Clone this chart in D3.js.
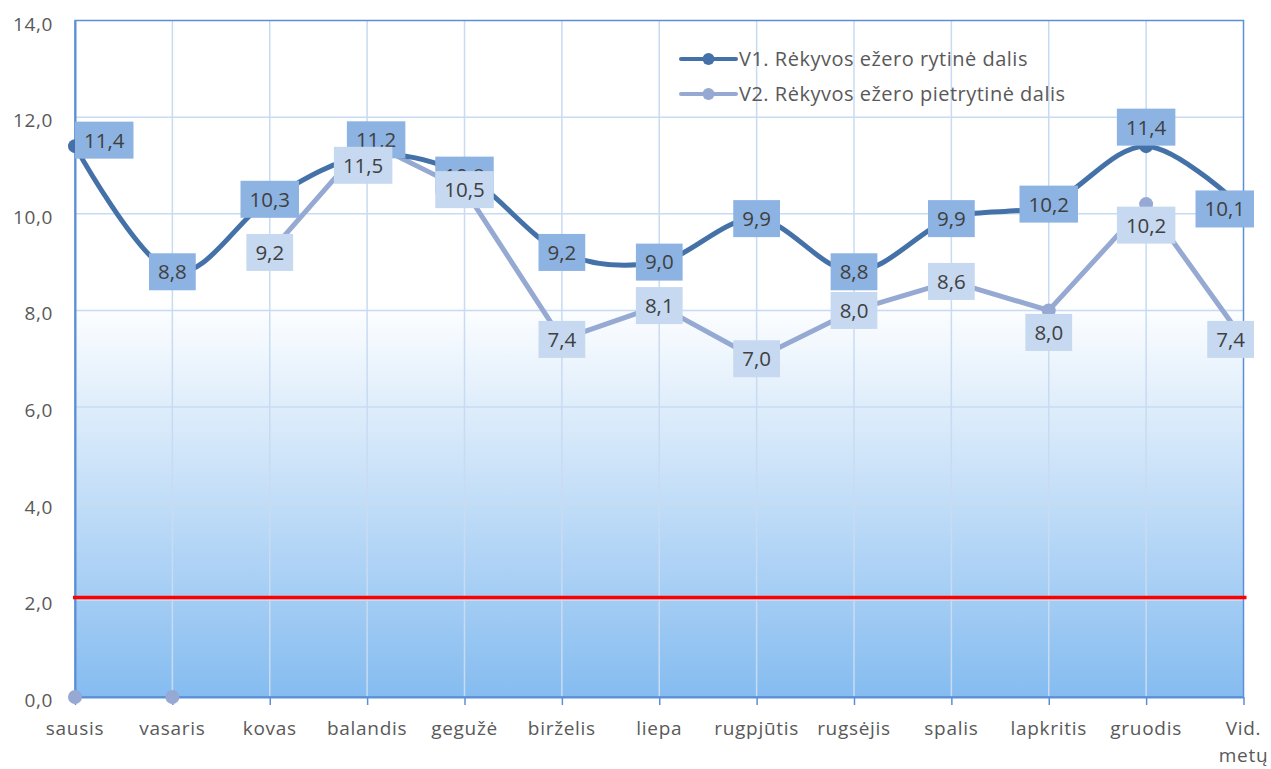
<!DOCTYPE html>
<html lang="lt">
<head>
<meta charset="utf-8">
<script src="https://cdn.jsdelivr.net/npm/d3@7"></script>
<style>
  html, body { margin: 0; padding: 0; background: #fff; }
  svg { display: block; font-family: "Open Sans", "Noto Sans", sans-serif; }
</style>
</head>
<body>
<svg id="chart" width="1271" height="769"></svg>
<script>
// Months plus the annual average
const categories = ["sausis", "vasaris", "kovas", "balandis", "gegužė", "birželis",
  "liepa", "rugpjūtis", "rugsėjis", "spalis", "lapkritis", "gruodis", "Vid. metų"];

// V1 – eastern part of the lake
const seriesV1 = [11.4, 8.8, 10.3, 11.2, 10.8, 9.2, 9.0, 9.9, 8.8, 9.9, 10.2, 11.4, 10.1];
// V2 – south-eastern part (no measurement in January and February, shown as 0)
const seriesV2 = [0, 0, 9.2, 11.5, 10.5, 7.4, 8.1, 7.0, 8.0, 8.6, 8.0, 10.2, 7.4];

const seriesNames = ["V1. Rėkyvos ežero rytinė dalis", "V2. Rėkyvos ežero pietrytinė dalis"];

// Reference level drawn as the red line
const referenceLevel = 2.06;

const yTicks = [0, 2, 4, 6, 8, 10, 12, 14];

const svg = d3.select("#chart");
const plotLeft = 75, plotRight = 1243.5, plotTop = 20.5, plotBottom = 697;

const x = d3.scalePoint().domain(categories).range([plotLeft, plotRight]);
const y = d3.scaleLinear().domain([0, 14]).range([plotBottom, plotTop]);
const fmt = v => d3.format(".1f")(v).replace(".", ",");

// Plot background: white upper part fading into blue towards the axis
const defs = svg.append("defs");
const grad = defs.append("linearGradient")
  .attr("id", "plotBg").attr("gradientUnits", "userSpaceOnUse")
  .attr("x1", 0).attr("x2", 0).attr("y1", y(8.2)).attr("y2", plotBottom);
grad.append("stop").attr("offset", 0).attr("stop-color", "#ffffff");
grad.append("stop").attr("offset", 1).attr("stop-color", "#85bcf0");

svg.append("rect").attr("x", plotLeft).attr("y", plotTop)
  .attr("width", plotRight - plotLeft).attr("height", plotBottom - plotTop)
  .attr("fill", "url(#plotBg)");

// Grid
const gridColor = "#c8dbf2";
svg.append("g").selectAll("line").data(yTicks.filter(t => t > 0 && t < 14)).join("line")
  .attr("x1", plotLeft).attr("x2", plotRight)
  .attr("y1", d => y(d)).attr("y2", d => y(d))
  .attr("stroke", gridColor).attr("stroke-width", 1.5);
svg.append("g").selectAll("line").data(categories.slice(1, -1)).join("line")
  .attr("x1", d => x(d)).attr("x2", d => x(d))
  .attr("y1", plotTop).attr("y2", plotBottom)
  .attr("stroke", gridColor).attr("stroke-width", 1.5);

// Plot border and axes
const axisColor = "#5b90d6";
svg.append("rect").attr("x", plotLeft).attr("y", plotTop)
  .attr("width", plotRight - plotLeft).attr("height", plotBottom - plotTop)
  .attr("fill", "none").attr("stroke", axisColor).attr("stroke-width", 1.5);

const xAxis = d3.axisBottom(x).tickSize(8).tickSizeOuter(0).tickFormat("");
const gx = svg.append("g").attr("transform", `translate(0,${plotBottom})`).call(xAxis);
gx.select(".domain").attr("stroke", axisColor).attr("stroke-width", 2);
gx.selectAll(".tick line").attr("stroke", axisColor).attr("stroke-width", 1.5);

// Category labels (the average label wraps onto two lines)
const xl = svg.append("g").selectAll("text").data(categories).join("text")
  .attr("x", d => x(d)).attr("y", 735)
  .attr("text-anchor", "middle").attr("fill", "#595959")
  .attr("font-size", 19).attr("letter-spacing", 0.7);
xl.each(function(d) {
  const parts = d === "Vid. metų" ? ["Vid.", "metų"] : [d];
  parts.forEach((p, i) => d3.select(this).append("tspan")
    .attr("x", x(d)).attr("dy", i === 0 ? 0 : 27).text(p));
});

const yAxis = d3.axisLeft(y).tickValues(yTicks).tickSize(0).tickFormat(fmt);
const gy = svg.append("g").attr("transform", `translate(${plotLeft},0)`).call(yAxis);
gy.select(".domain").attr("stroke", axisColor).attr("stroke-width", 2);
gy.selectAll(".tick text").attr("x", -22).attr("dy", "0.5em").attr("fill", "#595959")
  .attr("font-size", 19).attr("letter-spacing", 0.6)
  .attr("font-family", "'Open Sans', 'Noto Sans', sans-serif");

// Reference line
svg.append("line")
  .attr("x1", plotLeft - 2).attr("x2", plotRight + 3)
  .attr("y1", y(referenceLevel)).attr("y2", y(referenceLevel))
  .attr("stroke", "#ff0000").attr("stroke-width", 3.5);

const c1 = "#4472a8", c2 = "#95a9d3";
const box1 = "#8db3e2", box2 = "#c6d9f0";

const rows1 = categories.map((c, i) => ({ c, v: seriesV1[i] }));
const rows2 = categories.map((c, i) => ({ c, v: seriesV2[i] }));

// V2: straight segments, only where measured
svg.append("path").datum(rows2)
  .attr("d", d3.line().defined(d => d.v > 0).x(d => x(d.c)).y(d => y(d.v)))
  .attr("fill", "none").attr("stroke", c2).attr("stroke-width", 5).attr("stroke-linejoin", "round");
// V1: smoothed line
svg.append("path").datum(rows1)
  .attr("d", d3.line().curve(d3.curveCardinal.tension(0)).x(d => x(d.c)).y(d => y(d.v)))
  .attr("fill", "none").attr("stroke", c1).attr("stroke-width", 5).attr("stroke-linecap", "round");

svg.append("g").selectAll("circle").data(rows2).join("circle")
  .attr("cx", d => x(d.c)).attr("cy", d => y(d.v)).attr("r", 7).attr("fill", c2);
svg.append("g").selectAll("circle").data(rows1).join("circle")
  .attr("cx", d => x(d.c)).attr("cy", d => y(d.v)).attr("r", 7).attr("fill", c1);

// Data labels: centred on the point, nudged where they would collide
const nudge1 = { "sausis": [0, -6], "balandis": [9, -16], "gruodis": [0, -19] };
const nudge2 = { "balandis": [-4, 24], "lapkritis": [0, 22], "gruodis": [0, 21] };

function drawLabels(rows, fill, nudge) {
  const g = svg.append("g");
  rows.filter(d => d.v > 0).forEach(d => {
    const [dx, dy] = nudge[d.c] || [0, 0];
    const lg = g.append("g");
    const t = lg.append("text").text(fmt(d.v))
      .attr("text-anchor", "middle").attr("dy", "0.36em")
      .attr("fill", "#404040").attr("font-size", 20.5);
    const w = t.node().getComputedTextLength() + 18, h = 37;
    let cx = x(d.c) + dx;
    cx = Math.max(cx, plotLeft + w / 2);
    cx = Math.min(cx, 1254 - w / 2);
    const cy = y(d.v) + dy;
    lg.insert("rect", "text").attr("x", cx - w / 2).attr("y", cy - h / 2)
      .attr("width", w).attr("height", h).attr("fill", fill);
    t.attr("x", cx).attr("y", cy);
  });
}
drawLabels(rows1, box1, nudge1);
drawLabels(rows2, box2, nudge2);

// Legend
const legend = svg.append("g");
[[c1, seriesNames[0], 59], [c2, seriesNames[1], 94]].forEach(([col, name, ly]) => {
  legend.append("line").attr("x1", 681).attr("x2", 736).attr("y1", ly).attr("y2", ly)
    .attr("stroke", col).attr("stroke-width", 4).attr("stroke-linecap", "round");
  legend.append("circle").attr("cx", 708.5).attr("cy", ly).attr("r", 6).attr("fill", col);
  legend.append("text").attr("x", 739).attr("y", ly).attr("dy", "0.36em")
    .attr("fill", "#595959").attr("font-size", 20).attr("letter-spacing", 0.5).text(name);
});
</script>
</body>
</html>
